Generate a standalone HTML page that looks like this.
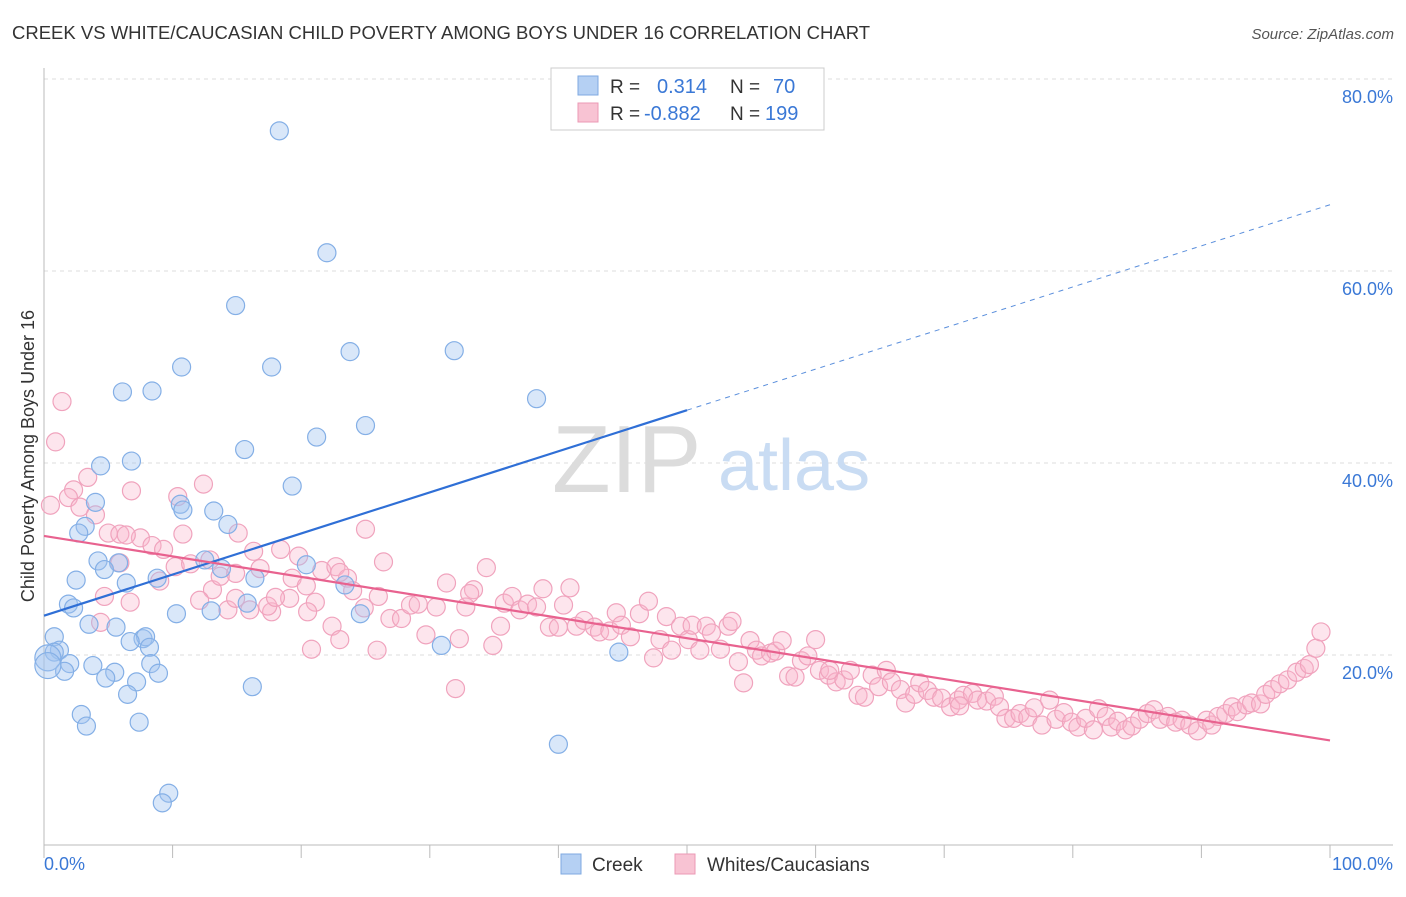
<!DOCTYPE html>
<html><head><meta charset="utf-8"><style>
body{margin:0;background:#fff;font-family:"Liberation Sans",sans-serif;}
svg text{font-family:"Liberation Sans",sans-serif;}
</style></head><body>
<svg id="chart" width="1406" height="892" viewBox="0 0 1406 892" xmlns="http://www.w3.org/2000/svg">
<text x="12" y="39" font-size="18.5" fill="#333">CREEK VS WHITE/CAUCASIAN CHILD POVERTY AMONG BOYS UNDER 16 CORRELATION CHART</text>
<text x="1394" y="39" font-size="15" fill="#555" font-style="italic" text-anchor="end">Source: ZipAtlas.com</text>
<g id="grid"></g>
<g>
<text x="552" y="492" font-family="Liberation Serif,serif" font-size="96" fill="#dcdcdc">ZIP</text>
<text x="718" y="490" font-size="72" fill="#c9dcf3">atlas</text>
</g>
<g id="axes"></g>
<g id="pinkPts"></g>
<g id="bluePts"></g>
<g id="trends"></g>
<text transform="translate(34,456) rotate(-90)" font-size="18" fill="#333" text-anchor="middle">Child Poverty Among Boys Under 16</text>
<g>
<rect x="551" y="68" width="273" height="62" fill="#fff" stroke="#ccc"/>
<rect x="578" y="76" width="20" height="19" fill="#b5d0f3" stroke="#7fa9e0"/>
<rect x="578" y="103" width="20" height="19" fill="#f8c3d3" stroke="#eb9ab5"/>
<text x="610" y="93" font-size="19" fill="#333">R =</text>
<text x="657" y="93" font-size="20" fill="#3a78d6">0.314</text>
<text x="730" y="93" font-size="19" fill="#333">N =</text>
<text x="773" y="93" font-size="20" fill="#3a78d6">70</text>
<text x="610" y="120" font-size="19" fill="#333">R =</text>
<text x="644" y="120" font-size="20" fill="#3a78d6">-0.882</text>
<text x="730" y="120" font-size="19" fill="#333">N =</text>
<text x="765" y="120" font-size="20" fill="#3a78d6">199</text>
</g>
<g>
<rect x="561" y="854" width="20" height="20" fill="#b5d0f3" stroke="#7fa9e0"/>
<text x="592" y="871" font-size="19" fill="#333">Creek</text>
<rect x="675" y="854" width="20" height="20" fill="#f8c3d3" stroke="#eb9ab5"/>
<text x="707" y="871" font-size="19" fill="#333">Whites/Caucasians</text>
</g>
</svg>
<script>
const creekX=[18.3,22.0,14.9,23.8,31.9,10.7,17.7,6.1,8.4,38.3,25.0,21.2,15.6,6.8,4.4,19.3,4.0,10.6,10.8,13.2,14.3,3.2,2.7,4.2,5.8,12.5,4.7,13.8,20.4,2.5,6.4,8.8,16.4,23.4,1.9,2.3,15.8,10.3,13.0,24.6,3.5,5.6,0.8,7.7,7.9,6.7,8.2,1.2,0.8,2.0,3.8,8.3,1.6,5.5,8.9,4.8,7.2,6.5,16.2,30.9,44.7,2.9,3.3,7.4,40.0,9.7,9.2,0.3,0.3];
const creekY=[74.6,61.9,56.4,51.6,51.7,50.0,50.0,47.4,47.5,46.7,43.9,42.7,41.4,40.2,39.7,37.6,35.9,35.7,35.1,35.0,33.6,33.4,32.7,29.8,29.6,29.9,28.9,29.0,29.4,27.8,27.5,28.0,28.0,27.3,25.3,24.9,25.4,24.3,24.6,24.3,23.2,22.9,21.9,21.7,21.9,21.4,20.8,20.5,20.3,19.1,18.9,19.1,18.3,18.2,18.1,17.6,17.2,15.9,16.7,21.0,20.3,13.8,12.6,13.0,10.7,5.6,4.6,19.7,18.9];
const whiteX=[1.4,0.9,0.5,3.4,2.3,1.9,2.8,4.0,5.0,5.9,7.5,8.4,9.3,6.8,10.8,10.4,12.4,10.2,11.4,12.9,13.1,14.9,15.1,16.3,16.8,18.4,19.8,19.3,20.4,21.1,21.6,22.7,23.6,24.0,25.0,26.4,6.7,4.4,9.0,13.7,12.1,14.3,16.0,17.7,19.1,17.4,20.5,22.4,23.0,20.8,24.9,25.9,26.9,27.8,28.5,29.1,29.7,30.5,31.3,32.0,32.3,32.8,33.4,34.4,34.9,35.5,35.8,36.4,37.0,37.6,38.3,38.8,39.3,40.0,40.4,40.9,41.4,42.0,42.8,43.2,44.0,44.5,44.9,45.6,46.3,47.0,47.4,47.9,48.4,48.8,49.5,50.1,50.4,51.0,51.5,51.9,52.6,53.2,53.5,54.0,54.4,54.9,55.4,55.8,56.5,56.9,57.4,57.9,58.4,58.9,59.4,60.0,60.3,61.0,61.6,62.2,62.7,63.3,63.8,64.4,64.9,65.5,65.9,66.6,67.0,67.7,68.1,68.7,69.2,69.8,70.5,71.1,71.5,72.2,72.6,73.3,73.9,74.3,74.8,75.4,75.9,76.5,77.0,77.6,78.2,78.7,79.3,79.9,80.4,81.0,81.6,82.0,82.6,83.0,83.5,84.1,84.6,85.2,85.8,86.3,86.8,87.4,88.0,88.5,89.1,89.7,90.4,90.8,91.3,91.9,92.4,92.8,93.5,93.9,94.6,95.0,95.5,96.1,96.7,97.4,98.0,98.4,98.9,99.3,71.2,61.1,33.1,4.7,6.4,14.9,18.0,23.0,26.0,5.9];
const whiteY=[46.4,42.2,35.6,38.5,37.2,36.4,35.4,34.6,32.7,32.6,32.2,31.4,31.0,37.1,32.6,36.5,37.8,29.2,29.5,29.9,26.8,28.5,32.7,30.8,29.0,31.0,30.3,28.0,27.2,25.5,28.8,29.2,28.0,26.7,33.1,29.7,25.5,23.4,27.7,28.2,25.7,24.7,24.7,24.5,25.9,25.1,24.5,23.0,21.6,20.6,24.9,20.5,23.8,23.8,25.2,25.3,22.1,25.0,27.5,16.5,21.7,25.0,26.8,29.1,21.0,23.0,25.4,26.1,24.7,25.3,25.0,26.9,22.9,22.9,25.2,27.0,23.0,23.6,22.9,22.4,22.5,24.4,23.1,21.9,24.3,25.6,19.7,21.6,24.0,20.5,23.0,21.6,23.1,20.5,23.0,22.3,20.6,23.0,23.5,19.3,17.1,21.5,20.5,19.9,20.2,20.4,21.5,17.8,17.7,19.4,19.9,21.6,18.4,17.9,17.2,17.4,18.4,15.8,15.6,17.9,16.7,18.4,17.2,16.4,15.0,15.9,17.1,16.3,15.6,15.5,14.6,15.3,15.8,16.0,15.3,15.2,15.7,14.6,13.4,13.4,13.9,13.5,14.5,12.7,15.3,13.3,14.0,13.0,12.5,13.4,12.2,14.4,13.6,12.5,13.1,12.2,12.6,13.3,13.9,14.3,13.3,13.6,13.0,13.2,12.7,12.1,13.2,12.7,13.6,13.9,14.6,14.1,14.8,15.0,14.9,15.9,16.4,17.0,17.4,18.2,18.6,19.0,20.7,22.4,14.7,18.4,26.4,26.1,32.5,25.9,26.0,28.6,26.1,29.6];
const creekTrend=[24.1,66.9];
const whiteTrend=[32.4,11.1];
const yTicks=[20,40,60,80];
const xTickLabels=["0.0%","100.0%"];

const NS="http://www.w3.org/2000/svg";
const X=v=>44+v*12.86, Y=v=>847-v*9.6;
function mk(tag,attrs,parent){const e=document.createElementNS(NS,tag);for(const k in attrs)e.setAttribute(k,attrs[k]);parent.appendChild(e);return e;}
const grid=document.getElementById('grid'),axes=document.getElementById('axes');
yTicks.forEach(t=>{
  const l=mk('line',{x1:44,x2:1393,y1:Y(t),y2:Y(t),stroke:'#ddd','stroke-dasharray':'4,4'},grid);
  
  
  const tx=mk('text',{x:1393,y:Y(t)+24,'font-size':18,fill:'#3a78d6','text-anchor':'end'},axes);
  tx.textContent=t.toFixed(1)+'%';
  
  
});
let a=mk('line',{x1:44,x2:44,y1:68,y2:845,stroke:'#bbb'},axes);


a=mk('line',{x1:44,x2:1393,y1:845,y2:845,stroke:'#bbb'},axes);


for(let i=0;i<=10;i++){const t=mk('line',{x1:X(i*10),x2:X(i*10),y1:845,y2:858,stroke:'#bbb'},axes);
  
  }
let xl=mk('text',{x:44,y:870,'font-size':18,fill:'#3a78d6'},axes);xl.textContent=xTickLabels[0];


xl=mk('text',{x:1393,y:870,'font-size':18,fill:'#3a78d6','text-anchor':'end'},axes);xl.textContent=xTickLabels[1];


const pg=document.getElementById('pinkPts');
whiteX.forEach((x,i)=>{const c=mk('circle',{cx:X(x),cy:Y(whiteY[i]),r:9,fill:'rgba(248,180,202,0.35)',stroke:'#f0a3bd','stroke-width':1.2},pg);
  
  });
const bg=document.getElementById('bluePts');
creekX.forEach((x,i)=>{const c=mk('circle',{cx:X(x),cy:Y(creekY[i]),r:(i>=67?13:9),fill:'rgba(160,196,240,0.4)',stroke:'#84afe6','stroke-width':1.2},bg);
  
  });
const tg=document.getElementById('trends');
const cy=x=>creekTrend[0]+(creekTrend[1]-creekTrend[0])*x/100;
let ln=mk('line',{x1:X(0),y1:Y(cy(0)),x2:X(50),y2:Y(cy(50)),stroke:'#2f6fd6','stroke-width':2.2},tg);


ln=mk('line',{x1:X(50),y1:Y(cy(50)),x2:X(100),y2:Y(cy(100)),stroke:'#5b8fdc','stroke-width':1,'stroke-dasharray':'5,5'},tg);


ln=mk('line',{x1:X(0),y1:Y(whiteTrend[0]),x2:X(100),y2:Y(whiteTrend[1]),stroke:'#e8628f','stroke-width':2.2},tg);


</script>
</body></html>
